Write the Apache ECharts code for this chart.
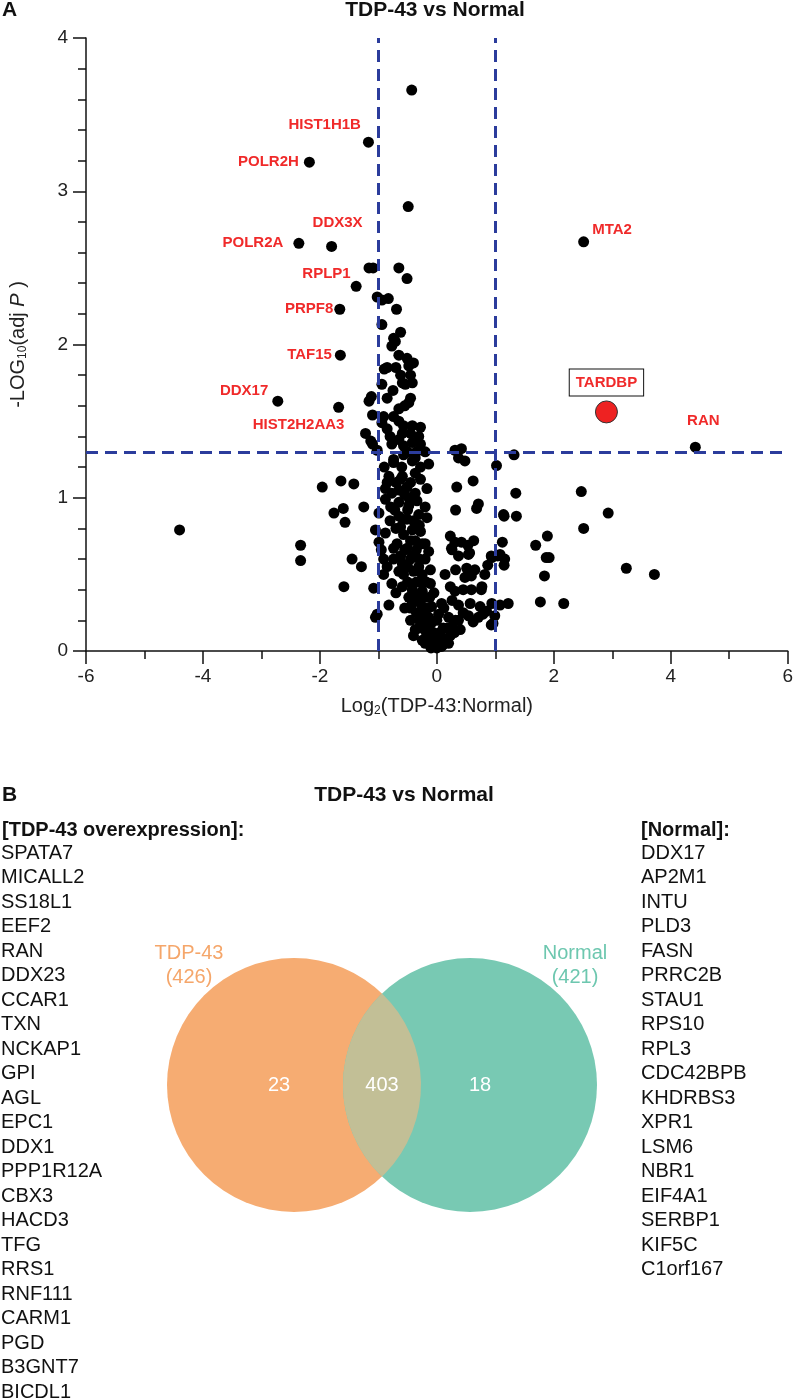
<!DOCTYPE html>
<html>
<head>
<meta charset="utf-8">
<script src="https://cdn.jsdelivr.net/npm/echarts@6/dist/echarts.min.js"></script>
<style>
html, body { margin: 0; padding: 0; background: #fff; }
#chart { width: 796px; height: 1400px; }
</style>
</head>
<body>
<div id="chart"></div>
<script>
// volcano plot: log2 fold change / -log10 adj P
const xTicks = [-6, 6, 2];
const yTicks = [0, 4, 1];
const foldCut = [-1, 1];
const pCut = 1.3;

const negFoldPoints = [
  [-0.43,3.66],[-0.49,2.90],[-1.16,2.50],[-1.09,2.50],[-0.65,2.50],[-0.51,2.43],[-1.02,2.31],[-0.94,2.29],
  [-0.83,2.30],[-0.69,2.23],[-0.94,2.13],[-0.62,2.08],[-0.74,2.04],[-0.71,2.02],[-0.77,1.99],[-0.65,1.93],
  [-0.51,1.91],[-0.40,1.88],[-0.48,1.86],[-0.90,1.84],[-0.85,1.85],[-0.62,1.80],[-0.45,1.80],[-0.59,1.75],
  [-0.42,1.75],[-0.54,1.74],[-0.94,1.74],[-1.12,1.66],[-1.16,1.63],[-0.45,1.65],[-0.48,1.62],[-0.65,1.58],
  [-1.10,1.54],[-0.91,1.53],[-0.94,1.49],[-0.74,1.53],[-0.65,1.50],[-0.57,1.47],[-0.42,1.47],[-0.28,1.46],
  [-0.59,1.42],[-0.45,1.42],[-0.31,1.40],[-1.22,1.42],[-0.77,1.35],[-0.57,1.34],[-0.42,1.36],[-0.28,1.35],
  [-1.10,1.35],[-1.13,1.37],[-1.02,1.31],[-0.74,1.25],[-0.57,1.28],[-0.37,1.26],[-0.14,1.22],[-0.74,1.23],
  [-0.42,1.24],[-0.28,1.20],[-1.64,1.11],[-1.42,1.09],[-1.96,1.07],[-0.82,1.14],[-0.59,1.14],[-0.37,1.16],
  [-0.28,1.12],[-0.17,1.06],[-0.88,1.06],[-0.77,1.03],[-0.65,1.05],[-0.51,1.07],[-0.37,1.03],[-1.60,0.93],
  [-1.76,0.90],[-1.57,0.84],[-1.25,0.94],[-0.99,0.90],[-0.88,0.99],[-0.79,0.94],[-0.65,0.97],[-0.48,0.95],
  [-0.34,0.98],[-0.20,0.94],[-0.65,0.88],[-0.51,0.86],[-0.31,0.89],[-0.17,0.87],[-1.05,0.79],[-0.88,0.77],
  [-0.62,0.81],[-0.57,0.76],[-0.42,0.79],[-0.28,0.78],[-0.37,0.72],[-0.95,0.66],[-0.74,0.67],[-0.51,0.67],
  [-0.25,0.70],[-0.14,0.65],[-1.45,0.60],[-1.29,0.55],[-0.91,0.60],[-0.74,0.60],[-0.59,0.57],[-0.42,0.62],
  [-0.31,0.55],[-0.20,0.60],[-0.91,0.50],[-0.77,0.44],[-0.57,0.50],[-0.40,0.52],[-0.25,0.50],[-0.11,0.53],
  [-1.59,0.42],[-1.08,0.41],[-0.59,0.42],[-0.42,0.40],[-0.25,0.39],[-0.11,0.44],[-0.31,0.33],[-0.48,0.35],
  [-0.82,0.30],[-0.42,0.31],[-0.25,0.29],[-0.09,0.29],[-1.02,0.24],[-1.05,0.22],[-0.45,0.20],[-0.28,0.21],
  [-0.14,0.22],[-0.37,0.14],[-0.20,0.16],[-0.06,0.12],[-0.25,0.07],[-0.14,0.09],[-0.06,0.04],[-0.08,0.03],
  [-4.40,0.79],[-2.33,0.69],[-2.33,0.59],[-0.99,0.71],
  [-0.85,1.10],[-0.70,1.10],[-0.55,1.02],[-0.45,1.10],[-0.80,0.85],[-0.70,0.80],[-0.50,0.92],[-0.40,0.85],
  [-0.30,0.82],[-0.68,0.70],[-0.55,0.66],[-0.45,0.72],[-0.35,0.66],[-0.20,0.70],[-0.85,0.55],[-0.65,0.52],
  [-0.50,0.45],[-0.35,0.45],[-0.18,0.45],[-0.70,0.38],[-0.38,0.36],[-0.20,0.35],[-0.05,0.38],[-0.55,0.28],
  [-0.35,0.25],[-0.15,0.28],[-0.30,0.15],[-0.10,0.18],[-0.20,0.05],[-0.02,0.08],[-0.90,1.20],[-0.60,1.20],
  [-0.50,1.30],[-0.65,1.38],[-0.85,1.45],[-0.35,1.30],[-0.20,1.30],[-0.85,1.65],[-0.75,1.70],[-0.70,1.85],
  [-0.55,1.60],[-0.80,1.40],
  [-0.62,1.12],[-0.48,1.00],[-0.72,0.92],[-0.58,0.86],[-0.45,0.60],[-0.62,0.62],[-0.30,0.60],[-0.50,0.55],
  [-0.28,0.45],[-0.45,0.28],[-0.30,0.20],[-0.12,0.35],[-0.40,0.10],[-0.18,0.12],[-0.10,0.02],[-0.25,0.25]
];

const posFoldPoints = [
  [0.31,1.31],[0.42,1.32],[0.37,1.26],[0.48,1.24],[1.32,1.28],[1.02,1.21],[0.34,1.07],[0.62,1.11],
  [1.35,1.03],[0.32,0.92],[0.68,0.93],[0.71,0.96],[1.15,0.88],[1.36,0.88],[0.23,0.75],[0.31,0.71],
  [0.42,0.71],[0.63,0.72],[0.53,0.69],[1.12,0.71],[0.26,0.66],[0.37,0.62],[0.54,0.63],[0.94,0.61],
  [1.08,0.63],[1.16,0.60],[0.14,0.50],[0.32,0.53],[0.51,0.54],[0.82,0.50],[0.48,0.48],[0.59,0.49],
  [0.23,0.42],[0.31,0.39],[0.45,0.40],[0.59,0.40],[0.77,0.42],[0.08,0.31],[0.26,0.33],[0.37,0.30],
  [0.57,0.31],[0.74,0.29],[0.94,0.31],[1.08,0.30],[1.22,0.31],[0.03,0.24],[0.20,0.22],[0.37,0.20],
  [0.54,0.23],[0.71,0.22],[0.85,0.26],[0.99,0.23],[0.96,0.18],[0.11,0.15],[0.26,0.16],[0.40,0.14],
  [0.03,0.06],[0.14,0.08],[0.23,0.10],[0.00,0.02],[0.08,0.03],
  [2.47,1.04],[2.93,0.90],[2.51,0.80],[1.89,0.75],[1.69,0.69],[1.87,0.61],[1.92,0.61],[3.24,0.54],
  [3.72,0.50],[1.84,0.49],[1.77,0.32],[2.17,0.31],[1.14,0.89],[0.93,0.62],[1.04,0.62],[0.87,0.56],
  [1.15,0.56],[0.65,0.53],[0.76,0.40],[0.93,0.17],[0.62,0.19],[0.79,0.24],[0.25,0.67],[0.56,0.64],
  [0.00,0.20],[0.05,0.12],[0.18,0.15],[0.30,0.12],[0.10,0.04],[0.20,0.05],[0.32,0.20],[0.45,0.25],
  [0.12,0.28]
];

// labelled proteins
const hitNames = ['HIST1H1B','POLR2H','POLR2A','DDX3X','RPLP1','PRPF8','TAF15','DDX17','HIST2H2AA3','MTA2','RAN'];
const hitFold  = [-1.17, -2.18, -2.36, -1.80, -1.38, -1.66, -1.65, -2.72, -1.68, 2.51, 4.42];
const hitLogP  = [ 3.32,  3.19,  2.66,  2.64,  2.38,  2.23,  1.93,  1.63,  1.59, 2.67, 1.33];
const targetName = 'TARDBP';
const targetPoint = [2.90, 1.56];

// venn
const vennSets = ['TDP-43', 'Normal'];
const vennTotals = [426, 421];
const vennParts = [23, 403, 18];

// gene lists
const tdpOnlyTitle = '[TDP-43 overexpression]:';
const tdpOnlyGenes = ['SPATA7','MICALL2','SS18L1','EEF2','RAN','DDX23','CCAR1','TXN','NCKAP1','GPI','AGL',
  'EPC1','DDX1','PPP1R12A','CBX3','HACD3','TFG','RRS1','RNF111','CARM1','PGD','B3GNT7','BICDL1'];
const normalOnlyTitle = '[Normal]:';
const normalOnlyGenes = ['DDX17','AP2M1','INTU','PLD3','FASN','PRRC2B','STAU1','RPS10','RPL3','CDC42BPB',
  'KHDRBS3','XPR1','LSM6','NBR1','EIF4A1','SERBP1','KIF5C','C1orf167'];

const FONT = 'Liberation Sans, Arial, sans-serif';
const dashColor = '#2B3C9C';
const hitColor = '#F02A2A';
const vennColors = ['#F6AC72', '#78C9B3', '#C2BF96'];
const vennTextColors = ['#F5A66A', '#6DC7AF'];

// label placement for each labelled protein
const hitLabelPos = {
  HIST1H1B:   { position: 'left',   offset: [3, -17] },
  POLR2H:     { position: 'left',   offset: [0, 0] },
  POLR2A:     { position: 'left',   offset: [-5, 0] },
  DDX3X:      { position: 'top',    offset: [6, -6] },
  RPLP1:      { position: 'left',   offset: [5, -12] },
  PRPF8:      { position: 'left',   offset: [4, 0] },
  TAF15:      { position: 'left',   offset: [2, 0] },
  DDX17:      { position: 'left',   offset: [1, -10] },
  HIST2H2AA3: { position: 'bottom', offset: [-40, 0] },
  MTA2:       { position: 'right',  offset: [-2, -12] },
  RAN:        { position: 'top',    offset: [8, -8] }
};

const hitData = hitNames.map((n, i) => ({
  name: n,
  value: [hitFold[i], hitLogP[i]],
  label: Object.assign({ show: true, formatter: n }, hitLabelPos[n])
}));

// venn layout in the hidden grid (100 px per unit)
const vennHalfGap = 0.88;
const vennRadius = 1.27;

const renderVenn = (params, api) => {
  const ca = api.coord([-vennHalfGap, 0]);
  const cb = api.coord([vennHalfGap, 0]);
  const r = api.size([vennRadius, 0])[0];
  const mx = (ca[0] + cb[0]) / 2;
  const half = (cb[0] - ca[0]) / 2;
  const h = Math.sqrt(r * r - half * half);
  const lens = `M ${mx} ${ca[1] - h} A ${r} ${r} 0 0 1 ${mx} ${ca[1] + h} A ${r} ${r} 0 0 1 ${mx} ${ca[1] - h} Z`;
  const pA = api.coord([-1.03, 0]);
  const pB = api.coord([0, 0]);
  const pC = api.coord([0.98, 0]);
  const lA = api.coord([-1.93, 1.2]);
  const lB = api.coord([1.93, 1.2]);
  const num = (p, t) => ({
    type: 'text', x: p[0], y: p[1],
    style: { text: String(t), fill: '#fff', font: '20px ' + FONT, align: 'center', verticalAlign: 'middle' }
  });
  const setLabel = (p, i) => ({
    type: 'text', x: p[0], y: p[1],
    style: { text: vennSets[i] + '\n(' + vennTotals[i] + ')', fill: vennTextColors[i], font: '20px ' + FONT,
      lineHeight: 24, align: 'center', verticalAlign: 'middle' }
  });
  return {
    type: 'group',
    children: [
      { type: 'circle', shape: { cx: ca[0], cy: ca[1], r: r }, style: { fill: vennColors[0] } },
      { type: 'circle', shape: { cx: cb[0], cy: cb[1], r: r }, style: { fill: vennColors[1] } },
      { type: 'path', shape: { pathData: lens }, style: { fill: vennColors[2] } },
      num(pA, vennParts[0]), num(pB, vennParts[1]), num(pC, vennParts[2]),
      setLabel(lA, 0), setLabel(lB, 1)
    ]
  };
};

const chart = echarts.init(document.getElementById('chart'));

const axisLineStyle = { color: '#111', width: 1.5 };

chart.setOption({
  animation: false,
  textStyle: { fontFamily: FONT },
  grid: [
    { left: 80, right: 7, top: 38, bottom: 749 },
    { left: 182, width: 400, top: 958, height: 254 }
  ],
  xAxis: [
    {
      gridIndex: 0, type: 'value', min: xTicks[0], max: xTicks[1], interval: xTicks[2],
      name: '{a|Log}{sub|2}{a|(TDP-43:Normal)}',
      nameLocation: 'middle', nameGap: 44,
      nameTextStyle: {
        rich: {
          a: { fontSize: 20, color: '#222', fontFamily: FONT },
          sub: { fontSize: 12, color: '#222', fontFamily: FONT, padding: [10, 0, 0, 0] }
        }
      },
      axisLine: { onZero: false, lineStyle: axisLineStyle },
      axisTick: { length: 13, lineStyle: axisLineStyle },
      minorTick: { show: true, splitNumber: 2, length: 8, lineStyle: axisLineStyle },
      axisLabel: { fontSize: 19, color: '#222', margin: 16, fontFamily: FONT },
      splitLine: { show: false }
    },
    { gridIndex: 1, type: 'value', min: -2, max: 2, show: false }
  ],
  yAxis: [
    {
      gridIndex: 0, type: 'value', min: yTicks[0], max: yTicks[1], interval: yTicks[2],
      name: '{a|-LOG}{sub|10}{a|(adj }{i|P}{a| )}',
      nameLocation: 'middle', nameGap: 57,
      nameTextStyle: {
        rich: {
          a: { fontSize: 20, color: '#222', fontFamily: FONT },
          i: { fontSize: 20, color: '#222', fontFamily: FONT, fontStyle: 'italic' },
          sub: { fontSize: 12, color: '#222', fontFamily: FONT, padding: [10, 0, 0, 0] }
        }
      },
      axisLine: { onZero: false, lineStyle: axisLineStyle },
      axisTick: { length: 13, lineStyle: axisLineStyle },
      minorTick: { show: true, splitNumber: 5, length: 8, lineStyle: axisLineStyle },
      axisLabel: { fontSize: 19, color: '#222', margin: 18, fontFamily: FONT },
      splitLine: { show: false }
    },
    { gridIndex: 1, type: 'value', min: -1.27, max: 1.27, show: false }
  ],
  series: [
    {
      // threshold lines
      type: 'scatter', xAxisIndex: 0, yAxisIndex: 0, data: [], z: 1,
      markLine: {
        silent: true, symbol: 'none', label: { show: false },
        lineStyle: { color: dashColor, width: 3, type: [12, 7] },
        data: [
          [{ coord: [foldCut[0], yTicks[0]] }, { coord: [foldCut[0], yTicks[1]] }],
          [{ coord: [foldCut[1], yTicks[0]] }, { coord: [foldCut[1], yTicks[1]] }],
          [{ coord: [xTicks[0], pCut] }, { coord: [xTicks[1], pCut] }]
        ]
      }
    },
    {
      name: 'proteins', type: 'scatter', xAxisIndex: 0, yAxisIndex: 0, z: 2,
      symbolSize: 11, itemStyle: { color: '#000', opacity: 1 },
      data: negFoldPoints.concat(posFoldPoints)
    },
    {
      name: 'hits', type: 'scatter', xAxisIndex: 0, yAxisIndex: 0, z: 3,
      symbolSize: 11, itemStyle: { color: '#000', opacity: 1 },
      label: { color: hitColor, fontSize: 15, fontWeight: 'bold', fontFamily: FONT, distance: 5 },
      data: hitData
    },
    {
      name: targetName, type: 'scatter', xAxisIndex: 0, yAxisIndex: 0, z: 4,
      symbolSize: 22, itemStyle: { color: '#EE2222', borderColor: '#333', borderWidth: 1, opacity: 1 },
      label: {
        show: true, position: 'top', distance: 5, formatter: targetName,
        color: hitColor, fontSize: 15, fontWeight: 'bold', fontFamily: FONT,
        borderColor: '#111', borderWidth: 1, padding: [6, 6, 5, 6], backgroundColor: '#fff'
      },
      data: [targetPoint]
    },
    {
      name: 'venn', type: 'custom', xAxisIndex: 1, yAxisIndex: 1, clip: false,
      renderItem: renderVenn, data: [[0, 0]]
    }
  ],
  graphic: [
    { type: 'text', x: 2, y: 10, style: { text: 'A', font: 'bold 21px ' + FONT, fill: '#111', verticalAlign: 'middle' } },
    { type: 'text', x: 435, y: 10, style: { text: 'TDP-43 vs Normal', font: 'bold 21px ' + FONT, fill: '#111', align: 'center', verticalAlign: 'middle' } },
    { type: 'text', x: 2, y: 795, style: { text: 'B', font: 'bold 21px ' + FONT, fill: '#111', verticalAlign: 'middle' } },
    { type: 'text', x: 404, y: 795, style: { text: 'TDP-43 vs Normal', font: 'bold 21px ' + FONT, fill: '#111', align: 'center', verticalAlign: 'middle' } },
    { type: 'text', x: 2, y: 830, style: { text: tdpOnlyTitle, font: 'bold 20px ' + FONT, fill: '#111', verticalAlign: 'middle' } },
    { type: 'text', x: 641, y: 830, style: { text: normalOnlyTitle, font: 'bold 20px ' + FONT, fill: '#111', verticalAlign: 'middle' } },
    { type: 'text', x: 1, y: 840.75, style: { text: tdpOnlyGenes.join('\n'), font: '20px ' + FONT, lineHeight: 24.5, fill: '#111', verticalAlign: 'top' } },
    { type: 'text', x: 641, y: 840.75, style: { text: normalOnlyGenes.join('\n'), font: '20px ' + FONT, lineHeight: 24.5, fill: '#111', verticalAlign: 'top' } }
  ]
});
</script>
</body>
</html>
